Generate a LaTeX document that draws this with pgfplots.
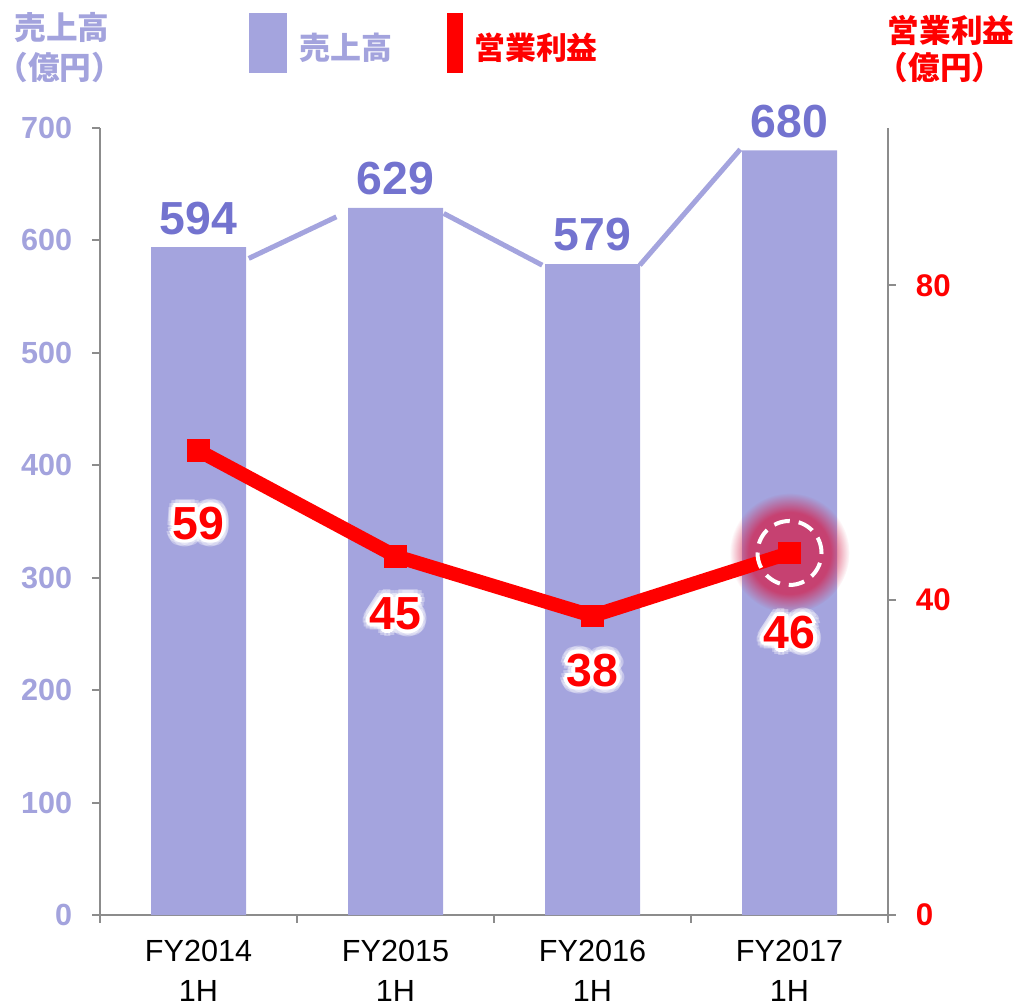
\documentclass[border=0pt]{standalone}
\usepackage{pgfplots}
\usepackage{pgfplotstable}
\pgfplotsset{compat=1.18}
\usepackage{fontspec}
\setmainfont{Liberation Sans}
\newfontfamily\cjk{Noto Sans CJK JP}
\usetikzlibrary{fadings}
\definecolor{barfill}{HTML}{A4A4DE}
\definecolor{barlab}{HTML}{7373CF}
\definecolor{ticklab}{HTML}{A3A3DD}
\definecolor{axgray}{HTML}{8C8C8C}
\definecolor{glowc}{HTML}{D41C48}

% soft-edged disc for the highlight
\pgfdeclareradialshading{glowshade}{\pgfpointorigin}{%
  color(0bp)=(pgftransparent!0); color(17bp)=(pgftransparent!0);
  color(25bp)=(pgftransparent!100); color(50bp)=(pgftransparent!100)}
\pgfdeclarefading{glowfade}{\pgfuseshading{glowshade}}

\pgfplotstableread{
x sales profit
0 594 59
1 629 45.6
2 579 38
3 680 46
}\datatab

\begin{document}
\begin{tikzpicture}
\pgfplotsset{
  base/.style={
    scale only axis, width=7.88cm, height=7.87cm,
    xmin=-0.5, xmax=3.5, clip=false,
    tick align=outside, major tick length=0.75mm,
    axis line style={axgray, line width=0.6pt},
    tick style={axgray, line width=0.6pt},
    /pgf/number format/assume math mode=true,
  },
}
% sales (left axis)
\begin{axis}[base,
  ymin=0, ymax=700, ytick distance=100,
  axis y line*=left, axis x line*=bottom,
  xtick={-0.5,0.5,1.5,2.5,3.5}, x tick label as interval,
  xticklabels={FY2014\\1H,FY2015\\1H,FY2016\\1H,FY2017\\1H,},
  xticklabel style={align=center, font=\fontsize{8.7}{11.4}\selectfont, text=black, yshift=-0.5mm},
  yticklabel style={font=\bfseries\fontsize{8.7}{10}\selectfont, text=ticklab, xshift=-0.8mm},
]
\addplot[ybar, bar width=9.5mm, fill=barfill, draw=none,
  nodes near coords,
  every node near coord/.append style={font=\bfseries\fontsize{13.2}{14}\selectfont, text=barlab, inner sep=0pt, yshift=1.2mm}]
  table[x=x, y=sales]{\datatab};
\addplot[barfill, line width=0.5mm] coordinates {(0.255,584) (0.70,621)};
\addplot[barfill, line width=0.5mm] coordinates {(1.245,624) (1.745,578)};
\addplot[barfill, line width=0.5mm] coordinates {(2.24,578) (2.75,681)};
\end{axis}

% operating profit (right axis)
\begin{axis}[base,
  ymin=0, ymax=100, ytick={0,40,80},
  axis y line*=right, axis x line=none,
  yticklabel style={font=\bfseries\fontsize{8.9}{10}\selectfont, text=red, xshift=0.8mm},
]
\fill[glowc, fill opacity=0.72, path fading=glowfade] (axis cs:3,46) circle[radius=0.6cm];
\addplot[red, line width=1.4mm, mark=square*, mark size=1.05mm,
  mark options={rounded corners=0.4mm, line width=0.5pt}]
  table[x=x, y=profit]{\datatab};
\addplot[only marks, mark=o, mark size=3.2mm,
  mark options={white, line width=0.4mm, dash pattern=on 1.6mm off 0.9mm}]
  coordinates {(3,46)};
\coordinate (p0) at (axis cs:0,49.8);
\coordinate (p1) at (axis cs:1,38.3);
\coordinate (p2) at (axis cs:2,31.1);
\coordinate (p3) at (axis cs:3,35.9);
\end{axis}

% profit labels with white glow
\foreach \p/\t in {p0/59,p1/45,p2/38,p3/46} {
  \foreach \a in {0,30,...,330}
    \node[text=white, opacity=0.35, font=\bfseries\fontsize{13.2}{14}\selectfont] at ([shift={(\a:0.75mm)}]\p) {\t};
  \foreach \a in {0,30,...,330}
    \node[text=white, font=\bfseries\fontsize{13.2}{14}\selectfont] at ([shift={(\a:0.38mm)}]\p) {\t};
  \node[text=red, font=\bfseries\fontsize{13.2}{14}\selectfont] at (\p) {\t};
}

% axis titles
\node[text=ticklab, font=\cjk\bfseries\fontsize{9}{10}\selectfont] at (-0.38,8.87) {売上高};
\node[text=ticklab, font=\cjk\bfseries\fontsize{9}{10}\selectfont] at (-0.40,8.48) {（億円）};
\node[text=red, font=\cjk\bfseries\fontsize{9}{10}\selectfont] at (8.51,8.85) {営業利益};
\node[text=red, font=\cjk\bfseries\fontsize{9}{10}\selectfont] at (8.40,8.48) {（億円）};

% legend
\fill[barfill] (1.49,8.42) rectangle (1.87,9.02);
\node[text=ticklab, font=\cjk\bfseries\fontsize{8.8}{10}\selectfont] at (2.46,8.67) {売上高};
\fill[red] (3.47,8.42) rectangle (3.63,9.02);
\node[text=red, font=\cjk\bfseries\fontsize{8.8}{10}\selectfont] at (4.36,8.67) {営業利益};

\pgfresetboundingbox
\path (-1.0,-0.86) rectangle (9.17,9.15);
\end{tikzpicture}
\end{document}
